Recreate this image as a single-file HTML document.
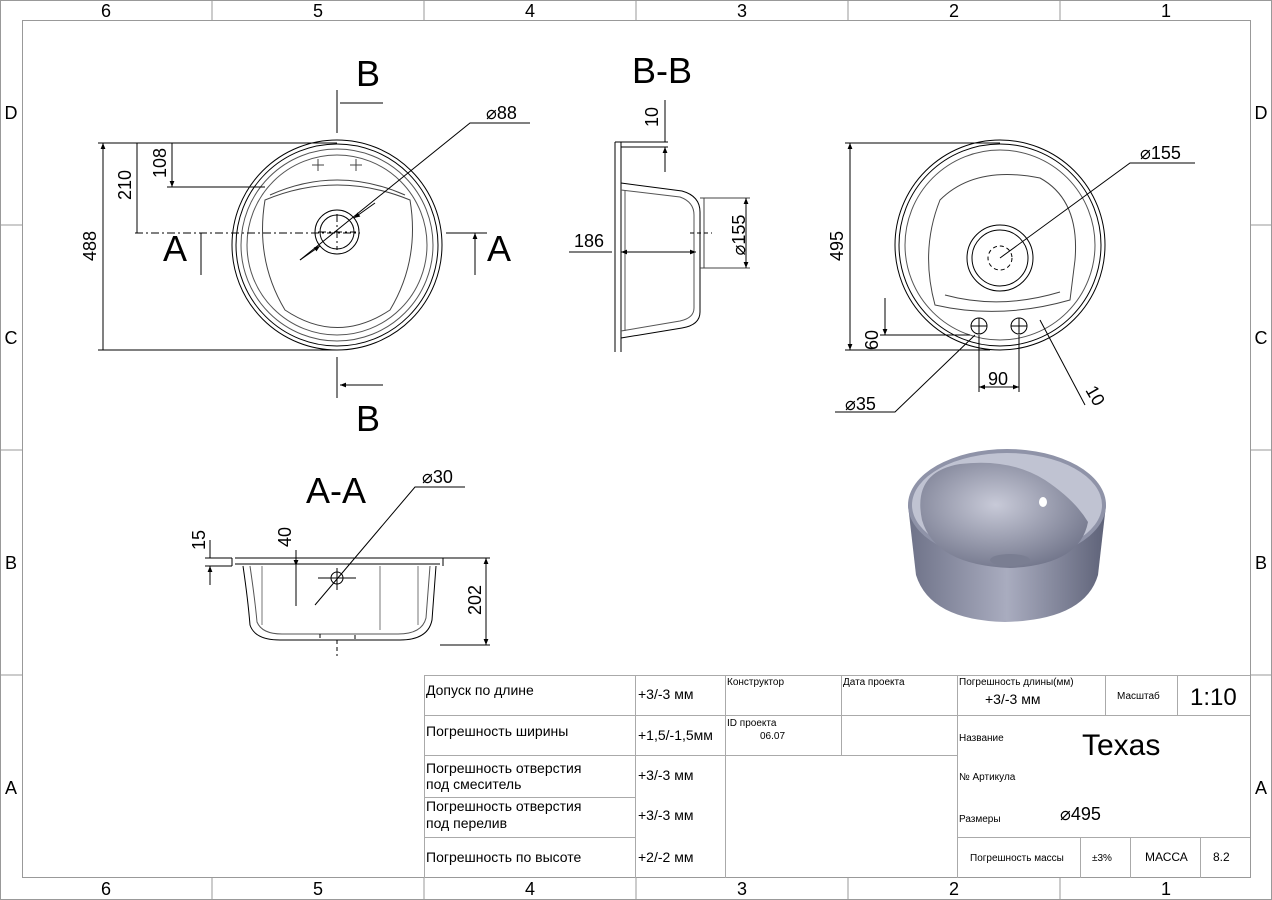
<!DOCTYPE html>
<html><head><meta charset="utf-8"><style>
html,body{margin:0;padding:0;background:#fff}
svg{display:block}
text{font-family:"Liberation Sans",sans-serif;fill:#000}
.t{font-family:"Liberation Sans Narrow","Liberation Sans",sans-serif}
</style></head><body>
<svg width="1272" height="900" viewBox="0 0 1272 900" xmlns="http://www.w3.org/2000/svg">
<defs>
<marker id="ar" viewBox="0 0 10 10" refX="10" refY="5" markerWidth="8" markerHeight="6" orient="auto-start-reverse"><path d="M0,1 L10,5 L0,9 z" fill="#000"/></marker>
<radialGradient id="g1" cx="0.45" cy="0.4" r="0.7"><stop offset="0" stop-color="#c8cad8"/><stop offset="1" stop-color="#6a6e84"/></radialGradient>
<linearGradient id="g2" x1="0" y1="0" x2="1" y2="0"><stop offset="0" stop-color="#6e7288"/><stop offset="0.5" stop-color="#a9acbf"/><stop offset="1" stop-color="#5e6278"/></linearGradient>
</defs>
<g stroke="#999" fill="none" stroke-width="1">
<rect x="0.5" y="0.5" width="1271" height="899"/>
<rect x="22.5" y="20.5" width="1228" height="857"/>
<path d="M212,0V20M424,0V20M636,0V20M848,0V20M1060,0V20M212,878V900M424,878V900M636,878V900M848,878V900M1060,878V900M0,225H22M0,450H22M0,675H22M1250,225H1272M1250,450H1272M1250,675H1272"/>
</g>
<g font-size="18" text-anchor="middle">
<text x="106" y="17">6</text><text x="318" y="17">5</text><text x="530" y="17">4</text><text x="742" y="17">3</text><text x="954" y="17">2</text><text x="1166" y="17">1</text>
<text x="106" y="895">6</text><text x="318" y="895">5</text><text x="530" y="895">4</text><text x="742" y="895">3</text><text x="954" y="895">2</text><text x="1166" y="895">1</text>
<text x="11" y="119">D</text><text x="11" y="344">C</text><text x="11" y="569">B</text><text x="11" y="794">A</text>
<text x="1261" y="119">D</text><text x="1261" y="344">C</text><text x="1261" y="569">B</text><text x="1261" y="794">A</text>
</g>

<!-- Top-left view -->
<g fill="none" stroke="#000" stroke-width="1">
<circle cx="337" cy="245" r="105"/><circle cx="337" cy="245" r="101"/><circle cx="337" cy="245" r="96" stroke="#555"/>
<circle cx="337" cy="245" r="90" stroke="#555"/>
<path d="M265,200 Q337,170 410,200 Q420,260 390,310 Q337,345 285,310 Q255,260 265,200Z" stroke="#444"/>
<path d="M270,195 Q337,165 405,195" stroke="#444"/>
<circle cx="337" cy="232" r="22"/><circle cx="337" cy="232" r="17"/>
<path d="M312,165h12M318,159v12M350,165h12M356,159v12" stroke="#444"/>
<path d="M135,233H360M318,232h38M337,214v36" stroke-dasharray="8 3 2 3"/>
<path d="M98,143H337M98,350H337M167,187H265"/>
<path d="M103,143V350M137,143V233M172,143V187" marker-start="url(#ar)" marker-end="url(#ar)"/>
<path d="M337,90V133M337,357V398"/>
<path d="M383,103H340M383,385H340" marker-end="url(#ar)"/>
<path d="M201,275V233M475,275V233" marker-end="url(#ar)"/>
<path d="M446,233H487"/>
<path d="M300,260L470,123H530" /><path d="M320,246L300,260" marker-start="url(#ar)"/><path d="M354,218L375,203" marker-start="url(#ar)"/>
</g>
<g font-size="36" text-anchor="middle"><text x="368" y="86">B</text><text x="368" y="431">B</text><text x="175" y="261">A</text><text x="499" y="261">A</text></g>
<g font-size="18"><text x="486" y="119">⌀88</text></g>
<text x="96" y="246" font-size="18" transform="rotate(-90 96 246)" text-anchor="middle">488</text>
<text x="131" y="185" font-size="18" transform="rotate(-90 131 185)" text-anchor="middle">210</text>
<text x="166" y="163" font-size="18" transform="rotate(-90 166 163)" text-anchor="middle">108</text>

<!-- B-B -->
<g fill="none" stroke="#000" stroke-width="1">
<path d="M615,142V352M621,142V352M615,142H668M621,147H668"/>
<path d="M621,183L682,191Q700,196 700,212V312Q700,325 682,328L621,338"/>
<path d="M621,190L680,197Q694,202 694,215V308Q694,318 680,321L621,331" stroke="#555"/>
<path d="M625,190V331" stroke="#555"/>
<path d="M700,198H750M700,268H750M704,198V268" stroke="#444"/>
<path d="M690,233H712" stroke-dasharray="4 3"/>
<path d="M665,100V142M665,172V147" marker-end="url(#ar)"/>
<path d="M569,252H612"/><path d="M621,252H696" marker-start="url(#ar)" marker-end="url(#ar)"/>
<path d="M746,198V268" marker-start="url(#ar)" marker-end="url(#ar)"/>
</g>
<text x="662" y="83" font-size="36" text-anchor="middle">B-B</text>
<text x="574" y="247" font-size="18">186</text>
<text x="658" y="117" font-size="18" transform="rotate(-90 658 117)" text-anchor="middle">10</text>
<text x="745" y="235" font-size="18" transform="rotate(-90 745 235)" text-anchor="middle">⌀155</text>

<!-- Top-right view -->
<g fill="none" stroke="#000" stroke-width="1">
<circle cx="1000" cy="245" r="105"/><circle cx="1000" cy="245" r="101"/><circle cx="1000" cy="245" r="95" stroke="#555"/>
<path d="M935,305 Q920,250 940,200 Q975,165 1040,178 Q1080,200 1075,260 L1070,300 Q1000,320 935,305Z" stroke="#444"/>
<path d="M945,295 Q1000,310 1060,292" stroke="#444"/>
<circle cx="1000" cy="258" r="33"/><circle cx="1000" cy="258" r="28"/><circle cx="1000" cy="258" r="12" stroke-dasharray="4 3"/>
<circle cx="979" cy="326" r="8"/><circle cx="1019" cy="326" r="8"/>
<path d="M971,326h16M979,318v16M1011,326h16M1019,318v16"/>
<path d="M845,143H1000M845,350H990M880,335H970"/>
<path d="M850,143V350" marker-start="url(#ar)" marker-end="url(#ar)"/>
<path d="M885,298V335" marker-end="url(#ar)"/>
<path d="M979,335V392M1019,335V392"/><path d="M979,387H1019" marker-start="url(#ar)" marker-end="url(#ar)"/>
<path d="M1000,258L1130,163H1195"/>
<path d="M835,412H895L975,335"/>
<path d="M1085,405L1040,320"/>
</g>
<text x="1140" y="159" font-size="18">⌀155</text>
<text x="843" y="246" font-size="18" transform="rotate(-90 843 246)" text-anchor="middle">495</text>
<text x="878" y="340" font-size="18" transform="rotate(-90 878 340)" text-anchor="middle">60</text>
<text x="988" y="385" font-size="18">90</text>
<text x="845" y="410" font-size="18">⌀35</text>
<text x="1085" y="390" font-size="18" transform="rotate(60 1085 390)">10</text>

<!-- A-A -->
<g fill="none" stroke="#000" stroke-width="1">
<path d="M235,558H440M235,564H440M232,558V566M443,558V566"/>
<path d="M243,566Q248,600 250,625Q255,640 280,640H400Q428,640 432,620L436,566"/>
<path d="M250,566Q255,600 257,622Q262,634 282,634H398Q422,634 426,618L430,566" stroke="#555"/>
<path d="M262,566V625M418,566V625M380,566V630" stroke="#777"/>
<path d="M320,634V640H355V634M337,640V656" stroke-dasharray="4 3"/>
<path d="M205,558H232M205,566H232M296,566V606M440,558H490M440,645H490"/>
<path d="M210,540V558M210,585V566" marker-end="url(#ar)"/>
<path d="M296,550V566" marker-end="url(#ar)"/>
<path d="M486,558V645" marker-start="url(#ar)" marker-end="url(#ar)"/>
<circle cx="337" cy="578" r="6"/><path d="M318,578H356M337,568V590"/>
<path d="M315,605L415,487H465"/>
</g>
<text x="336" y="503" font-size="36" text-anchor="middle">A-A</text>
<text x="422" y="483" font-size="18">⌀30</text>
<text x="205" y="540" font-size="18" transform="rotate(-90 205 540)" text-anchor="middle">15</text>
<text x="291" y="537" font-size="18" transform="rotate(-90 291 537)" text-anchor="middle">40</text>
<text x="481" y="600" font-size="18" transform="rotate(-90 481 600)" text-anchor="middle">202</text>

<!-- 3D sink -->
<g>
<path d="M908,505 L916,575 Q930,620 1005,622 Q1085,620 1098,575 L1106,505Z" fill="url(#g2)"/>
<ellipse cx="1007" cy="505" rx="99" ry="56" fill="#8f93a8"/>
<ellipse cx="1007" cy="505" rx="95" ry="52" fill="#c0c3d2"/>
<path d="M922,520 Q912,472 960,464 Q1010,458 1045,480 Q1075,500 1088,522 Q1080,565 1010,568 Q935,565 922,520Z" fill="url(#g1)"/>
<ellipse cx="1010" cy="560" rx="20" ry="6" fill="#7a7e92"/>
<ellipse cx="1043" cy="502" rx="4" ry="5" fill="#fff"/>
</g>

<!-- Title block -->
<g fill="none" stroke="#aaa" stroke-width="1">
<path d="M424.5,675V878M424,675.5H1250M424,715.5H725M424,755.5H725M424,797.5H635M424,837.5H635M635.5,675V878M725.5,675V878M841.5,675V755M725,715.5H957M725,755.5H957M957.5,675V878M957,715.5H1250M1105.5,675V715M1177.5,675V715M957,837.5H1250M1080.5,837V878M1130.5,837V878M1200.5,837V878"/>
</g>
<g class="t" font-size="14">
<text x="426" y="695">Допуск по длине</text>
<text x="426" y="736">Погрешность ширины</text>
<text x="426" y="773">Погрешность отверстия</text><text x="426" y="789">под смеситель</text>
<text x="426" y="811">Погрешность отверстия</text><text x="426" y="828">под перелив</text>
<text x="426" y="862">Погрешность по высоте</text>
<text x="638" y="699">+3/-3 мм</text><text x="638" y="740">+1,5/-1,5мм</text><text x="638" y="780">+3/-3 мм</text><text x="638" y="820">+3/-3 мм</text><text x="638" y="862">+2/-2 мм</text>
</g>
<g class="t" font-size="10">
<text x="727" y="685">Конструктор</text><text x="843" y="685">Дата проекта</text>
<text x="727" y="726">ID проекта</text><text x="760" y="739">06.07</text>
<text x="959" y="685">Погрешность длины(мм)</text>
<text x="1117" y="699">Масштаб</text>
<text x="959" y="741">Название</text><text x="959" y="780">№ Артикула</text><text x="959" y="822">Размеры</text>
<text x="970" y="861">Погрешность массы</text><text x="1092" y="861">±3%</text>
</g>
<text class="t" x="985" y="704" font-size="14">+3/-3 мм</text>
<text class="t" x="1190" y="705" font-size="24">1:10</text>
<text class="t" x="1082" y="755" font-size="30">Texas</text>
<text class="t" x="1060" y="820" font-size="18">⌀495</text>
<text class="t" x="1145" y="861" font-size="12">МАССА</text>
<text class="t" x="1213" y="861" font-size="12">8.2</text>
</svg>
</body></html>
